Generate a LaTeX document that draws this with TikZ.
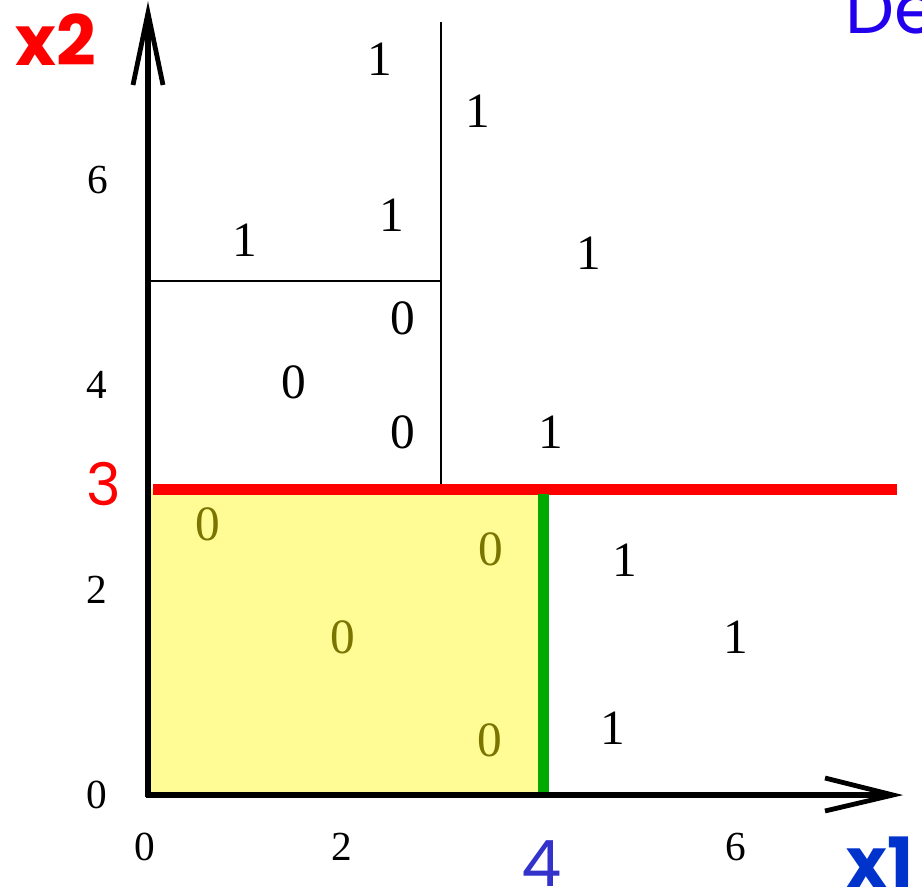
\documentclass[tikz,border=0pt]{standalone}
\usepackage{fontspec}
\setmainfont{Liberation Serif}
\newfontfamily\comicfont{Poppins}
\definecolor{cellyellow}{HTML}{FFFC96}
\definecolor{olivetext}{HTML}{7A7400}
\definecolor{redline}{HTML}{FF0000}
\definecolor{greenline}{HTML}{00AA00}
\definecolor{fourblue}{HTML}{3333CC}
\definecolor{xoneblue}{HTML}{0033CC}
\definecolor{deblue}{HTML}{2200EE}
\tikzset{
  cell/.style={anchor=base, inner sep=0pt, font=\fontsize{37}{37}\selectfont},
  olivecell/.style={cell, text=olivetext},
  tick/.style={anchor=base, inner sep=0pt, font=\fontsize{31}{31}\selectfont},
  axisline/.style={line width=3.9pt, black},
  arrowv/.style={line width=3.6pt, black, line join=miter, miter limit=10},
  thinline/.style={line width=1.4pt, black},
  thickline/.style={line width=8.25pt},
  biglabel/.style={anchor=base, inner sep=0pt}
}
\begin{document}
\begin{tikzpicture}[x=0.75pt,y=-0.75pt]
\useasboundingbox (0,0) rectangle (922,893);
% shaded region
\fill[cellyellow] (148,489) rectangle (543,795);
% partition lines
\coordinate (vtop) at (441,22);
\coordinate (vbot) at (441,489);
\coordinate (hl) at (148,281);
\coordinate (hr) at (441,281);
\draw[thinline] (vtop) -- (vbot);
\draw[thinline] (hl) -- (hr);
% red and green splits
\coordinate (rl) at (153,489);
\coordinate (rr) at (897,489);
\coordinate (gt) at (543,494);
\coordinate (gb) at (543,795);
\draw[thickline, redline] (rl) -- (rr);
\draw[thickline, greenline] (gt) -- (gb);
% axes
\coordinate (ytip) at (148,13);
\coordinate (xtip) at (893,795);
\draw[axisline] (146,795) -- (886,795);
\draw[axisline] (148,797) -- (148,22);
\draw[arrowv] (133,85) -- (ytip) -- (163,85);
\draw[arrowv] (825,778) -- (xtip) -- (825,811);
% tick labels
\node[tick] (tx0) at (145,860) {0};
\node[tick] (tx2) at (342,860) {2};
\node[tick] (tx6) at (736,860) {6};
\node[tick] (ty6) at (98,193) {6};
\node[tick] (ty4) at (97,398) {4};
\node[tick] (ty2) at (97,603) {2};
\node[tick] (ty0) at (97,808) {0};
% cell values
\node[cell] (c1) at (380,75) {1};
\node[cell] (c2) at (478,127) {1};
\node[cell] (c3) at (392,231) {1};
\node[cell] (c4) at (245,256) {1};
\node[cell] (c5) at (589,269) {1};
\node[cell] (c6) at (403,334) {0};
\node[cell] (c7) at (294,398) {0};
\node[cell] (c8) at (403,448) {0};
\node[cell] (c9) at (551,448) {1};
\node[olivecell] (c10) at (208,540) {0};
\node[olivecell] (c11) at (491,565) {0};
\node[olivecell] (c12) at (343,653) {0};
\node[olivecell] (c13) at (490,756) {0};
\node[cell] (c14) at (625,576) {1};
\node[cell] (c15) at (736,653) {1};
\node[cell] (c16) at (613,744) {1};
% coloured labels
\node[biglabel, text=redline, font=\comicfont\bfseries\fontsize{52}{52}\selectfont] (lx2) at (56,65) {x2};
\node[biglabel, text=redline, font=\comicfont\fontsize{44}{44}\selectfont] (l3) at (104,505) {3};
\node[biglabel, text depth=0pt, text=fourblue, font=\comicfont\fontsize{48}{48}\selectfont] (l4) at (542,886) {4};
\node[biglabel, anchor=base west, text=xoneblue, font=\comicfont\bfseries\fontsize{52}{52}\selectfont] (lx1) at (846,887) {x1};
\node[biglabel, anchor=base west, text=deblue, font=\comicfont\fontsize{52}{52}\selectfont] (lde) at (845,33) {De};
\end{tikzpicture}
\end{document}
